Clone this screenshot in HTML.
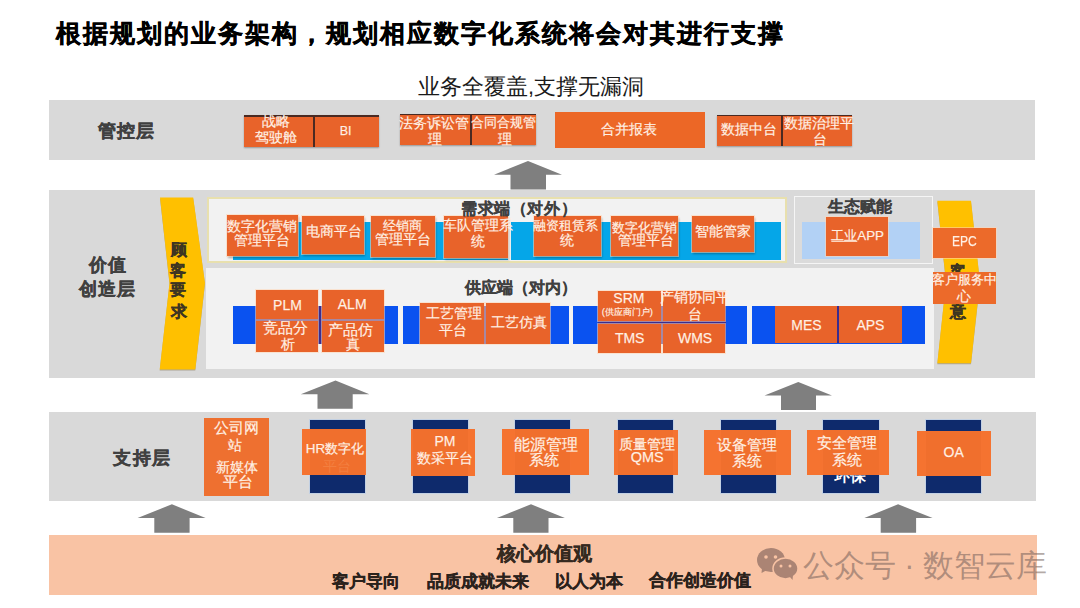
<!DOCTYPE html>
<html><head><meta charset="utf-8"><style>
html,body{margin:0;padding:0;background:#fff;width:1080px;height:608px;overflow:hidden;position:relative;font-family:"Liberation Sans",sans-serif;}
.a{position:absolute;}
.t{white-space:nowrap;}
</style></head><body>
<div class="a" style="left:49.00px;top:99.50px;width:986.00px;height:60.50px;background:#D9D9D9"></div><div class="a" style="left:49.00px;top:190.00px;width:986.00px;height:187.50px;background:#D9D9D9"></div><div class="a" style="left:49.00px;top:412.00px;width:987.00px;height:88.70px;background:#D9D9D9"></div><div class="a" style="left:49.00px;top:535.30px;width:987.50px;height:59.70px;background:#F9C3A4"></div><svg class="a" style="left:0;top:0" width="1080" height="608"><polygon points="528,161 562,174.8 546,174.8 546,189.4 510.5,189.4 510.5,174.8 494,174.8" fill="#7F7F7F"/></svg><svg class="a" style="left:0;top:0" width="1080" height="608"><polygon points="335.5,380.6 369.4,394.3 352.7,394.3 352.7,408.7 317.5,408.7 317.5,394.3 300.8,394.3" fill="#7F7F7F"/></svg><svg class="a" style="left:0;top:0" width="1080" height="608"><polygon points="798.3,381.9 832,395.5 816,395.5 816,410 781,410 781,395.5 764.5,395.5" fill="#7F7F7F"/></svg><svg class="a" style="left:0;top:0" width="1080" height="608"><polygon points="171.9,504.3 205.6,518 189.6,518 189.6,532.8 154.3,532.8 154.3,518 137.6,518" fill="#7F7F7F"/></svg><svg class="a" style="left:0;top:0" width="1080" height="608"><polygon points="531,504.3 564.9,518 548.5,518 548.5,532.8 513.3,532.8 513.3,518 496.9,518" fill="#7F7F7F"/></svg><svg class="a" style="left:0;top:0" width="1080" height="608"><polygon points="898.1,504.3 932.6,518 916.1,518 916.1,532.8 880.7,532.8 880.7,518 864.3,518" fill="#7F7F7F"/></svg><div class="a" style="left:244.20px;top:115.20px;width:134.80px;height:31.40px;background:#4a2a22;box-shadow:0 1px 1.5px rgba(0,0,0,0.3)"></div><div class="a" style="left:244.20px;top:116.80px;width:68.70px;height:29.80px;background:#E8632A;"></div><div class="a" style="left:314.70px;top:116.80px;width:64.30px;height:29.80px;background:#E8632A;"></div><div class="a" style="left:400.00px;top:113.60px;width:136.00px;height:31.90px;background:#4a2a22;box-shadow:0 1px 1.5px rgba(0,0,0,0.3)"></div><div class="a" style="left:400.00px;top:115.20px;width:69.90px;height:30.30px;background:#E8632A;"></div><div class="a" style="left:471.50px;top:115.20px;width:64.50px;height:30.30px;background:#E8632A;"></div><div class="a" style="left:555.00px;top:111.50px;width:150.00px;height:36.50px;background:#EC6726;"></div><div class="a" style="left:716.60px;top:114.50px;width:135.10px;height:31.00px;background:#4a2a22;box-shadow:0 1px 1.5px rgba(0,0,0,0.3)"></div><div class="a" style="left:716.60px;top:116.00px;width:64.90px;height:29.50px;background:#E8632A;"></div><div class="a" style="left:783.10px;top:116.00px;width:68.60px;height:29.50px;background:#E8632A;"></div><svg class="a" style="left:0;top:0" width="1080" height="608"><g style="filter:drop-shadow(0 1.5px 0.6px rgba(90,70,20,0.35))"><polygon points="160,197.5 193.2,197.5 205,283 195.3,369.6 159.7,369.6 169.5,283" fill="#FFC000"/><polygon points="937.3,200.7 971,200.7 980,282 971,363.3 937.3,363.3 946,282" fill="#FFC000"/></g></svg><div class="a" style="left:206.50px;top:197.00px;width:580.50px;height:66.00px;background:#F2F2F2;border:2.5px solid #E8E0AE;box-sizing:border-box"></div><div class="a" style="left:233.00px;top:221.50px;width:275.00px;height:38.20px;background:#05A6E8"></div><div class="a" style="left:511.20px;top:221.50px;width:270.30px;height:38.00px;background:#05A6E8"></div><div class="a" style="left:226.70px;top:215.20px;width:71.10px;height:41.00px;background:#E8632A;box-shadow:0 0 0 1px rgba(255,214,180,0.55),1px 2px 2px rgba(0,0,0,0.3)"></div><div class="a" style="left:301.50px;top:216.00px;width:62.50px;height:37.70px;background:#E8632A;box-shadow:0 0 0 1px rgba(255,214,180,0.55),1px 2px 2px rgba(0,0,0,0.3)"></div><div class="a" style="left:371.20px;top:215.60px;width:63.40px;height:41.80px;background:#E8632A;box-shadow:0 0 0 1px rgba(255,214,180,0.55),1px 2px 2px rgba(0,0,0,0.3)"></div><div class="a" style="left:443.50px;top:216.00px;width:64.50px;height:42.10px;background:#E8632A;box-shadow:0 0 0 1px rgba(255,214,180,0.55),1px 2px 2px rgba(0,0,0,0.3)"></div><div class="a" style="left:534.20px;top:216.20px;width:66.40px;height:39.70px;background:#E8632A;box-shadow:0 0 0 1px rgba(255,214,180,0.55),1px 2px 2px rgba(0,0,0,0.3)"></div><div class="a" style="left:611.20px;top:215.60px;width:66.40px;height:40.40px;background:#E8632A;box-shadow:0 0 0 1px rgba(255,214,180,0.55),1px 2px 2px rgba(0,0,0,0.3)"></div><div class="a" style="left:691.70px;top:215.70px;width:62.20px;height:36.30px;background:#E8632A;box-shadow:0 0 0 1px rgba(255,214,180,0.55),1px 2px 2px rgba(0,0,0,0.3)"></div><div class="a" style="left:794.00px;top:196.30px;width:138.80px;height:67.90px;background:#DBDBDB;border:1.5px solid #F5F5F5;box-sizing:border-box"></div><div class="a" style="left:802.00px;top:221.50px;width:118.40px;height:37.80px;background:#B2D1F5"></div><div class="a" style="left:826.30px;top:217.30px;width:61.70px;height:39.00px;background:#E8632A;box-shadow:0 0 0 1px rgba(255,214,180,0.55);"></div><div class="a" style="left:206.20px;top:267.50px;width:727.80px;height:101.50px;background:#F2F2F2"></div><div class="a" style="left:233.30px;top:306.00px;width:164.70px;height:38.00px;background:#0A52F0"></div><div class="a" style="left:403.30px;top:306.00px;width:165.40px;height:38.00px;background:#0A52F0"></div><div class="a" style="left:573.30px;top:306.00px;width:173.60px;height:38.00px;background:#0A52F0"></div><div class="a" style="left:751.50px;top:306.00px;width:173.30px;height:38.00px;background:#0A52F0"></div><div class="a" style="left:255.80px;top:306.00px;width:128.00px;height:38.00px;background:#3B2C8E"></div><div class="a" style="left:255.80px;top:290.20px;width:62.20px;height:28.80px;background:#E8632A;box-shadow:0 0 0 1px rgba(255,214,180,0.55);"></div><div class="a" style="left:322.00px;top:290.20px;width:61.80px;height:28.80px;background:#E8632A;box-shadow:0 0 0 1px rgba(255,214,180,0.55);"></div><div class="a" style="left:255.80px;top:321.30px;width:62.20px;height:30.50px;background:#E8632A;box-shadow:0 0 0 1px rgba(255,214,180,0.55);"></div><div class="a" style="left:322.00px;top:321.30px;width:61.80px;height:30.50px;background:#E8632A;box-shadow:0 0 0 1px rgba(255,214,180,0.55);"></div><div class="a" style="left:484.40px;top:306.00px;width:1.90px;height:38.00px;background:#3B2C8E"></div><div class="a" style="left:420.20px;top:302.90px;width:64.20px;height:41.10px;background:#E8632A;box-shadow:0 0 0 1px rgba(255,214,180,0.55);"></div><div class="a" style="left:486.30px;top:302.90px;width:64.20px;height:41.10px;background:#E8632A;box-shadow:0 0 0 1px rgba(255,214,180,0.55);"></div><div class="a" style="left:598.00px;top:306.00px;width:127.50px;height:38.00px;background:#3B2C8E"></div><div class="a" style="left:598.00px;top:290.80px;width:62.70px;height:29.80px;background:#E8632A;box-shadow:0 0 0 1px rgba(255,214,180,0.55);"></div><div class="a" style="left:663.20px;top:290.80px;width:62.30px;height:29.80px;background:#E8632A;box-shadow:0 0 0 1px rgba(255,214,180,0.55);"></div><div class="a" style="left:598.00px;top:323.80px;width:62.70px;height:28.80px;background:#E8632A;box-shadow:0 0 0 1px rgba(255,214,180,0.55);"></div><div class="a" style="left:663.20px;top:323.80px;width:62.30px;height:28.80px;background:#E8632A;box-shadow:0 0 0 1px rgba(255,214,180,0.55);"></div><div class="a" style="left:836.80px;top:306.30px;width:2.00px;height:36.70px;background:#3B2C8E"></div><div class="a" style="left:775.00px;top:306.30px;width:61.80px;height:36.70px;background:#E8632A;"></div><div class="a" style="left:838.80px;top:306.30px;width:63.10px;height:36.70px;background:#E8632A;"></div><div class="a" style="left:932.70px;top:228.00px;width:63.20px;height:29.60px;background:#EC6A2A;box-shadow:0 0 0 1px rgba(255,214,180,0.55);"></div><div class="a t" id="ke_r" style="left:950.40px;top:263.83px;font-size:16.00px;line-height:1;font-weight:bold;-webkit-text-stroke:0.35px currentColor;color:#3d3522;">客</div><div class="a t" id="yi_r" style="left:950.30px;top:303.78px;font-size:16.00px;line-height:1;font-weight:bold;-webkit-text-stroke:0.35px currentColor;color:#3d3522;">意</div><div class="a" style="left:932.70px;top:272.00px;width:63.20px;height:31.50px;background:#EC6A2A;"></div><div class="a" style="left:203.50px;top:418.00px;width:65.00px;height:77.90px;background:#EE7030;"></div><div class="a" style="left:310.20px;top:420.20px;width:55.10px;height:72.60px;background:#0E2A6C;box-shadow:0 0 0 1px rgba(175,200,235,0.55)"></div><div class="a" style="left:302.00px;top:429.40px;width:64.00px;height:46.00px;background:rgba(246,113,44,0.975);"></div><div class="a" style="left:323px;top:459px;font-size:14px;line-height:1;color:rgba(255,175,120,0.25);white-space:nowrap">平台</div><div class="a" style="left:412.90px;top:420.20px;width:55.10px;height:72.60px;background:#0E2A6C;box-shadow:0 0 0 1px rgba(175,200,235,0.55)"></div><div class="a" style="left:411.20px;top:429.40px;width:64.20px;height:46.30px;background:rgba(246,113,44,0.975);"></div><div class="a" style="left:515.30px;top:420.20px;width:55.20px;height:72.60px;background:#0E2A6C;box-shadow:0 0 0 1px rgba(175,200,235,0.55)"></div><div class="a" style="left:502.00px;top:429.40px;width:87.40px;height:46.10px;background:rgba(246,113,44,0.975);"></div><div class="a" style="left:617.80px;top:420.20px;width:55.00px;height:72.60px;background:#0E2A6C;box-shadow:0 0 0 1px rgba(175,200,235,0.55)"></div><div class="a" style="left:613.60px;top:430.00px;width:64.80px;height:45.20px;background:rgba(246,113,44,0.975);"></div><div class="a" style="left:720.80px;top:420.20px;width:55.00px;height:72.60px;background:#0E2A6C;box-shadow:0 0 0 1px rgba(175,200,235,0.55)"></div><div class="a" style="left:704.00px;top:429.70px;width:87.00px;height:45.50px;background:rgba(246,113,44,0.975);"></div><div class="a" style="left:823.10px;top:420.20px;width:55.50px;height:72.60px;background:#0E2A6C;box-shadow:0 0 0 1px rgba(175,200,235,0.55)"></div><div class="a t" id="huanbao" style="left:834.30px;top:468.28px;font-size:16.00px;line-height:1;font-weight:bold;color:#fff;clip-path:inset(7.02px 0 0 0);">环保</div><div class="a" style="left:806.50px;top:429.50px;width:82.50px;height:45.70px;background:rgba(246,113,44,0.975);"></div><div class="a" style="left:926.00px;top:420.20px;width:55.00px;height:72.60px;background:#0E2A6C;box-shadow:0 0 0 1px rgba(175,200,235,0.55)"></div><div class="a" style="left:917.00px;top:430.50px;width:73.60px;height:45.70px;background:rgba(246,113,44,0.975);"></div><div class="a t" id="title" style="left:56.00px;top:20.59px;font-size:25.00px;line-height:1;font-weight:bold;color:#000;letter-spacing:2px;-webkit-text-stroke:0.4px #000;">根据规划的业务架构，规划相应数字化系统将会对其进行支撑</div><div class="a t" id="subtitle" style="left:418.00px;top:75.65px;font-size:21.70px;line-height:1;color:#1a1a1a;">业务全覆盖,支撑无漏洞</div><div class="a t" id="gkc" style="left:97.52px;top:121.65px;font-size:18.38px;line-height:1;font-weight:bold;-webkit-text-stroke:0.35px currentColor;color:#404040;letter-spacing:1.2px;">管控层</div><div class="a t" id="jz" style="left:88.97px;top:257.34px;font-size:17.76px;line-height:1;font-weight:bold;-webkit-text-stroke:0.35px currentColor;color:#404040;letter-spacing:1.2px;">价值</div><div class="a t" id="czc" style="left:79.07px;top:280.47px;font-size:18.46px;line-height:1;font-weight:bold;-webkit-text-stroke:0.35px currentColor;color:#404040;letter-spacing:1.2px;">创造层</div><div class="a t" id="zcc" style="left:113.35px;top:449.20px;font-size:18.29px;line-height:1;font-weight:bold;-webkit-text-stroke:0.35px currentColor;color:#404040;letter-spacing:1.2px;">支持层</div><div class="a t" id="gk0" style="left:170.75px;top:241.73px;font-size:16.00px;line-height:1;font-weight:bold;-webkit-text-stroke:0.35px currentColor;color:#3d3522;">顾</div><div class="a t" id="gk1" style="left:170.25px;top:263.03px;font-size:16.00px;line-height:1;font-weight:bold;-webkit-text-stroke:0.35px currentColor;color:#3d3522;">客</div><div class="a t" id="gk2" style="left:170.25px;top:282.33px;font-size:16.00px;line-height:1;font-weight:bold;-webkit-text-stroke:0.35px currentColor;color:#3d3522;">要</div><div class="a t" id="gk3" style="left:170.75px;top:304.23px;font-size:16.00px;line-height:1;font-weight:bold;-webkit-text-stroke:0.35px currentColor;color:#3d3522;">求</div><div class="a t" id="xqd" style="left:461.03px;top:201.48px;font-size:15.50px;line-height:1;font-weight:bold;color:#404040;-webkit-text-stroke:0.2px #404040;letter-spacing:0.6px;">需求端（对外）</div><div class="a t" id="stfn" style="left:828.00px;top:198.65px;font-size:15.80px;line-height:1;font-weight:bold;color:#404040;-webkit-text-stroke:0.25px #404040;">生态赋能</div><div class="a t" id="gyd" style="left:464.80px;top:279.94px;font-size:15.92px;line-height:1;font-weight:bold;color:#404040;-webkit-text-stroke:0.25px #404040;">供应端（对内）</div><div class="a t" id="zl" style="left:261.55px;top:115.43px;font-size:13.50px;line-height:1;color:#FFF0E4;-webkit-text-stroke:0.25px rgba(255,240,228,0.8);">战略</div><div class="a t" id="jsc" style="left:254.60px;top:130.83px;font-size:13.50px;line-height:1;color:#FFF0E4;-webkit-text-stroke:0.25px rgba(255,240,228,0.8);">驾驶舱</div><div class="a t" id="bi" style="left:339.75px;top:124.72px;font-size:12.50px;line-height:1;color:#FFF0E4;-webkit-text-stroke:0.25px rgba(255,240,228,0.8);">BI</div><div class="a t" id="fw" style="left:398.95px;top:116.58px;font-size:13.63px;line-height:1;color:#FFF0E4;-webkit-text-stroke:0.25px rgba(255,240,228,0.8);">法务诉讼管</div><div class="a t" id="li1" style="left:428.00px;top:132.73px;font-size:13.50px;line-height:1;color:#FFF0E4;-webkit-text-stroke:0.25px rgba(255,240,228,0.8);">理</div><div class="a t" id="ht" style="left:471.22px;top:116.10px;font-size:12.99px;line-height:1;color:#FFF0E4;-webkit-text-stroke:0.25px rgba(255,240,228,0.8);">合同合规管</div><div class="a t" id="li2" style="left:497.65px;top:132.73px;font-size:13.50px;line-height:1;color:#FFF0E4;-webkit-text-stroke:0.25px rgba(255,240,228,0.8);">理</div><div class="a t" id="hb" style="left:600.75px;top:122.23px;font-size:14.10px;line-height:1;color:#FFF0E4;-webkit-text-stroke:0.25px rgba(255,240,228,0.8);">合并报表</div><div class="a t" id="sjzt" style="left:721.15px;top:122.09px;font-size:14.27px;line-height:1;color:#FFF0E4;-webkit-text-stroke:0.25px rgba(255,240,228,0.8);">数据中台</div><div class="a t" id="sjzl" style="left:784.01px;top:116.67px;font-size:13.63px;line-height:1;color:#FFF0E4;-webkit-text-stroke:0.25px rgba(255,240,228,0.8);">数据治理平</div><div class="a t" id="tai1" style="left:812.50px;top:133.43px;font-size:13.50px;line-height:1;color:#FFF0E4;-webkit-text-stroke:0.25px rgba(255,240,228,0.8);">台</div><div class="a t" id="szh1" style="left:226.76px;top:218.67px;font-size:14.25px;line-height:1;color:#FFF0E4;-webkit-text-stroke:0.25px rgba(255,240,228,0.8);">数字化营销</div><div class="a t" id="gl1" style="left:234.18px;top:234.45px;font-size:13.87px;line-height:1;color:#FFF0E4;-webkit-text-stroke:0.25px rgba(255,240,228,0.8);">管理平台</div><div class="a t" id="ds" style="left:305.78px;top:224.11px;font-size:14.27px;line-height:1;color:#FFF0E4;-webkit-text-stroke:0.25px rgba(255,240,228,0.8);">电商平台</div><div class="a t" id="jxs" style="left:383.17px;top:218.82px;font-size:13.15px;line-height:1;color:#FFF0E4;-webkit-text-stroke:0.25px rgba(255,240,228,0.8);">经销商</div><div class="a t" id="gl3" style="left:374.99px;top:233.48px;font-size:13.87px;line-height:1;color:#FFF0E4;-webkit-text-stroke:0.25px rgba(255,240,228,0.8);">管理平台</div><div class="a t" id="cd" style="left:443.22px;top:219.10px;font-size:13.69px;line-height:1;color:#FFF0E4;-webkit-text-stroke:0.25px rgba(255,240,228,0.8);">车队管理系</div><div class="a t" id="tong4" style="left:471.05px;top:235.28px;font-size:13.50px;line-height:1;color:#FFF0E4;-webkit-text-stroke:0.25px rgba(255,240,228,0.8);">统</div><div class="a t" id="rz" style="left:532.57px;top:218.65px;font-size:13.41px;line-height:1;color:#FFF0E4;-webkit-text-stroke:0.25px rgba(255,240,228,0.8);">融资租赁系</div><div class="a t" id="tong5" style="left:559.55px;top:234.23px;font-size:13.50px;line-height:1;color:#FFF0E4;-webkit-text-stroke:0.25px rgba(255,240,228,0.8);">统</div><div class="a t" id="szh6" style="left:611.68px;top:221.60px;font-size:12.63px;line-height:1;color:#FFF0E4;-webkit-text-stroke:0.25px rgba(255,240,228,0.8);">数字化营销</div><div class="a t" id="gl6" style="left:617.79px;top:233.81px;font-size:13.95px;line-height:1;color:#FFF0E4;-webkit-text-stroke:0.25px rgba(255,240,228,0.8);">管理平台</div><div class="a t" id="zngj" style="left:695.00px;top:225.20px;font-size:13.59px;line-height:1;color:#FFF0E4;-webkit-text-stroke:0.25px rgba(255,240,228,0.8);">智能管家</div><div class="a t" id="epc" style="left:950.35px;top:234.47px;font-size:14.00px;line-height:1;color:#FFF0E4;-webkit-text-stroke:0.25px rgba(255,240,228,0.8);transform:scaleX(0.86);transform-origin:50% 50%;">EPC</div><div class="a t" id="khfw" style="left:931.88px;top:274.28px;font-size:12.73px;line-height:1;color:#FFF0E4;-webkit-text-stroke:0.25px rgba(255,240,228,0.8);">客户服务中</div><div class="a t" id="xin" style="left:956.70px;top:290.23px;font-size:13.50px;line-height:1;color:#FFF0E4;-webkit-text-stroke:0.25px rgba(255,240,228,0.8);">心</div><div class="a t" id="plm" style="left:273.08px;top:297.96px;font-size:14.00px;line-height:1;color:#FFF0E4;-webkit-text-stroke:0.25px rgba(255,240,228,0.8);">PLM</div><div class="a t" id="alm" style="left:337.79px;top:297.30px;font-size:14.00px;line-height:1;color:#FFF0E4;-webkit-text-stroke:0.25px rgba(255,240,228,0.8);">ALM</div><div class="a t" id="jpf" style="left:263.37px;top:321.25px;font-size:14.66px;line-height:1;color:#FFF0E4;-webkit-text-stroke:0.25px rgba(255,240,228,0.8);">竞品分</div><div class="a t" id="xi" style="left:281.15px;top:336.97px;font-size:14.00px;line-height:1;color:#FFF0E4;-webkit-text-stroke:0.25px rgba(255,240,228,0.8);">析</div><div class="a t" id="cpf" style="left:328.32px;top:321.79px;font-size:15.18px;line-height:1;color:#FFF0E4;-webkit-text-stroke:0.25px rgba(255,240,228,0.8);">产品仿</div><div class="a t" id="zhen" style="left:345.60px;top:337.22px;font-size:14.00px;line-height:1;color:#FFF0E4;-webkit-text-stroke:0.25px rgba(255,240,228,0.8);">真</div><div class="a t" id="gygl" style="left:425.56px;top:307.37px;font-size:13.62px;line-height:1;color:#FFF0E4;-webkit-text-stroke:0.25px rgba(255,240,228,0.8);">工艺管理</div><div class="a t" id="pt_gy" style="left:439.21px;top:322.60px;font-size:14.48px;line-height:1;color:#FFF0E4;-webkit-text-stroke:0.25px rgba(255,240,228,0.8);">平台</div><div class="a t" id="gyfz" style="left:491.30px;top:315.68px;font-size:13.57px;line-height:1;color:#FFF0E4;-webkit-text-stroke:0.25px rgba(255,240,228,0.8);">工艺仿真</div><div class="a t" id="srm" style="left:613.32px;top:290.82px;font-size:14.00px;line-height:1;color:#FFF0E4;-webkit-text-stroke:0.25px rgba(255,240,228,0.8);">SRM</div><div class="a t" id="gysmh" style="left:601.72px;top:308.24px;font-size:9.33px;line-height:1;color:#FFF0E4;-webkit-text-stroke:0.25px rgba(255,240,228,0.8);">(供应商门户)</div><div class="a t" id="cxxt" style="left:659.81px;top:291.40px;font-size:13.54px;line-height:1;color:#FFF0E4;-webkit-text-stroke:0.25px rgba(255,240,228,0.8);">产销协同平</div><div class="a t" id="tai_cx" style="left:688.20px;top:307.63px;font-size:13.50px;line-height:1;color:#FFF0E4;-webkit-text-stroke:0.25px rgba(255,240,228,0.8);">台</div><div class="a t" id="tms" style="left:614.90px;top:330.69px;font-size:14.00px;line-height:1;color:#FFF0E4;-webkit-text-stroke:0.25px rgba(255,240,228,0.8);">TMS</div><div class="a t" id="wms" style="left:677.99px;top:331.36px;font-size:14.00px;line-height:1;color:#FFF0E4;-webkit-text-stroke:0.25px rgba(255,240,228,0.8);">WMS</div><div class="a t" id="mes" style="left:791.22px;top:317.85px;font-size:14.00px;line-height:1;color:#FFF0E4;-webkit-text-stroke:0.25px rgba(255,240,228,0.8);">MES</div><div class="a t" id="aps" style="left:856.43px;top:318.10px;font-size:14.00px;line-height:1;color:#FFF0E4;-webkit-text-stroke:0.25px rgba(255,240,228,0.8);">APS</div><div class="a t" id="gswz" style="left:213.91px;top:421.15px;font-size:14.91px;line-height:1;color:#FFF0E4;-webkit-text-stroke:0.25px rgba(255,240,228,0.8);">公司网</div><div class="a t" id="zhan" style="left:228.10px;top:438.02px;font-size:14.00px;line-height:1;color:#FFF0E4;-webkit-text-stroke:0.25px rgba(255,240,228,0.8);">站</div><div class="a t" id="xmt" style="left:215.50px;top:460.08px;font-size:14.25px;line-height:1;color:#FFF0E4;-webkit-text-stroke:0.25px rgba(255,240,228,0.8);">新媒体</div><div class="a t" id="pt_gs" style="left:222.74px;top:475.06px;font-size:14.76px;line-height:1;color:#FFF0E4;-webkit-text-stroke:0.25px rgba(255,240,228,0.8);">平台</div><div class="a t" id="hr" style="left:305.81px;top:442.09px;font-size:13.41px;line-height:1;color:#FFF0E4;-webkit-text-stroke:0.25px rgba(255,240,228,0.8);">HR数字化</div><div class="a t" id="pm" style="left:434.40px;top:433.92px;font-size:14.00px;line-height:1;color:#FFF0E4;-webkit-text-stroke:0.25px rgba(255,240,228,0.8);">PM</div><div class="a t" id="scpt" style="left:416.67px;top:452.32px;font-size:13.67px;line-height:1;color:#FFF0E4;-webkit-text-stroke:0.25px rgba(255,240,228,0.8);">数采平台</div><div class="a t" id="nygl" style="left:514.36px;top:437.15px;font-size:15.87px;line-height:1;color:#FFF0E4;-webkit-text-stroke:0.25px rgba(255,240,228,0.8);">能源管理</div><div class="a t" id="xt_ny" style="left:529.40px;top:453.26px;font-size:14.50px;line-height:1;color:#FFF0E4;-webkit-text-stroke:0.25px rgba(255,240,228,0.8);">系统</div><div class="a t" id="zlgl" style="left:618.71px;top:437.81px;font-size:13.53px;line-height:1;color:#FFF0E4;-webkit-text-stroke:0.25px rgba(255,240,228,0.8);">质量管理</div><div class="a t" id="qms" style="left:630.69px;top:450.43px;font-size:14.50px;line-height:1;color:#FFF0E4;-webkit-text-stroke:0.25px rgba(255,240,228,0.8);">QMS</div><div class="a t" id="sbgl" style="left:716.67px;top:437.17px;font-size:15.36px;line-height:1;color:#FFF0E4;-webkit-text-stroke:0.25px rgba(255,240,228,0.8);">设备管理</div><div class="a t" id="xt_sb" style="left:731.80px;top:454.31px;font-size:14.50px;line-height:1;color:#FFF0E4;-webkit-text-stroke:0.25px rgba(255,240,228,0.8);">系统</div><div class="a t" id="aqgl" style="left:816.76px;top:435.31px;font-size:15.42px;line-height:1;color:#FFF0E4;-webkit-text-stroke:0.25px rgba(255,240,228,0.8);">安全管理</div><div class="a t" id="xt_aq" style="left:832.39px;top:453.14px;font-size:14.53px;line-height:1;color:#FFF0E4;-webkit-text-stroke:0.25px rgba(255,240,228,0.8);">系统</div><div class="a t" id="oa" style="left:943.50px;top:445.41px;font-size:14.00px;line-height:1;color:#FFF0E4;-webkit-text-stroke:0.25px rgba(255,240,228,0.8);">OA</div><div class="a" style="left:826.5px;top:239.5px;width:0;height:0"></div><div class="a t" id="gyapp" style="left:831.29px;top:228.92px;font-size:13.35px;line-height:1;color:#FFF0E4;-webkit-text-stroke:0.25px rgba(255,240,228,0.8);"><u>工业</u>APP</div><div class="a t" id="hxjz" style="left:496.53px;top:544.63px;font-size:18.61px;line-height:1;font-weight:bold;-webkit-text-stroke:0.35px currentColor;color:#35291f;">核心价值观</div><div class="a t" id="khdx" style="left:332.11px;top:573.16px;font-size:16.51px;line-height:1;font-weight:bold;-webkit-text-stroke:0.35px currentColor;color:#2b221c;">客户导向</div><div class="a t" id="pzcj" style="left:426.84px;top:573.79px;font-size:16.52px;line-height:1;font-weight:bold;-webkit-text-stroke:0.35px currentColor;color:#2b221c;">品质成就未来</div><div class="a t" id="yrwb" style="left:554.85px;top:573.54px;font-size:16.72px;line-height:1;font-weight:bold;-webkit-text-stroke:0.35px currentColor;color:#2b221c;">以人为本</div><div class="a t" id="hzcz" style="left:649.17px;top:573.47px;font-size:16.89px;line-height:1;font-weight:bold;-webkit-text-stroke:0.35px currentColor;color:#2b221c;">合作创造价值</div><svg class="a" style="left:0;top:0" width="1080" height="608">
<g fill="#AB8474">
<ellipse cx="771" cy="560" rx="14" ry="12"/>
<polygon points="762,568 761.5,573 767,570"/>
<ellipse cx="785.5" cy="568.5" rx="12.5" ry="10.5" stroke="#F9C3A4" stroke-width="1.5"/>
<polygon points="790,577 792.5,580 793,575"/>
</g>
<g fill="#F9C3A4"><circle cx="766" cy="557" r="1.8"/><circle cx="775.5" cy="557" r="1.8"/><circle cx="781" cy="566" r="1.5"/><circle cx="790" cy="566" r="1.5"/></g>
</svg><div class="a t" id="wm" style="left:802.78px;top:549.77px;font-size:30.54px;line-height:1;color:rgba(115,95,90,0.55);">公众号 · 数智云库</div>
</body></html>
